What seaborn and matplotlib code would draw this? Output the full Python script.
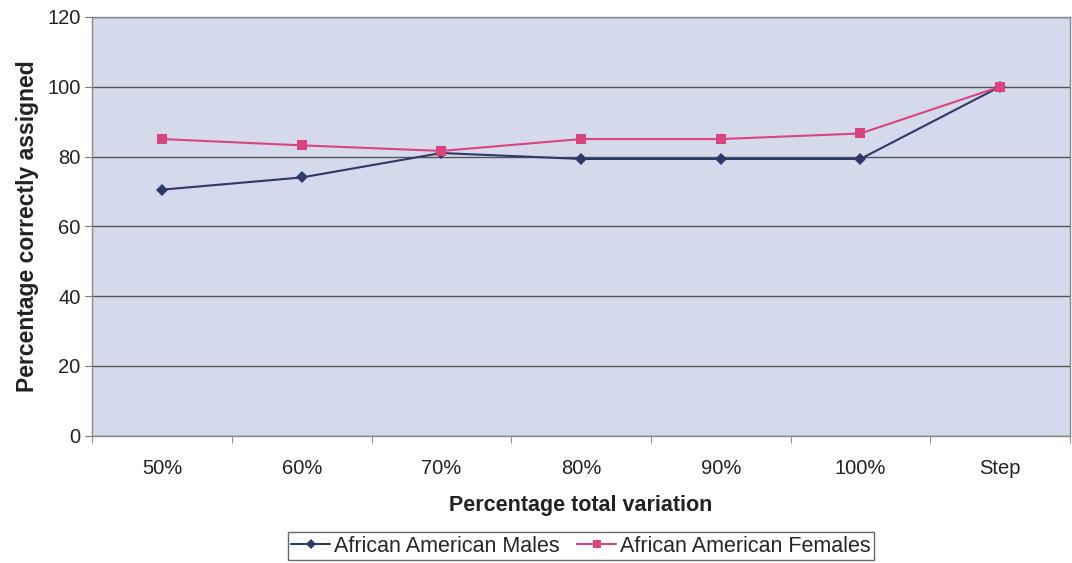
import pandas as pd
import numpy as np
import matplotlib
matplotlib.use("Agg")
import matplotlib.pyplot as plt
import seaborn as sns

categories = ["50%", "60%", "70%", "80%", "90%", "100%", "Step"]
males = [70.5, 74.0, 81.0, 79.3, 79.3, 79.3, 100.0]
females = [85.0, 83.2, 81.6, 85.0, 85.0, 86.6, 100.0]
series_names = ["African American Males", "African American Females"]

df = pd.DataFrame({
    "variation": categories * 2,
    "pct": males + females,
    "group": [series_names[0]] * len(categories) + [series_names[1]] * len(categories),
})
df["pos"] = list(range(len(categories))) * 2

sns.set_style("white")
plt.rcParams['font.family'] = ['Liberation Sans', 'DejaVu Sans']

fig = plt.figure(figsize=(10.72, 5.63), dpi=100)
ax = fig.add_axes([0.086, 0.226, 0.912, 0.744])
ax.set_facecolor("#D5D9EC")

palette = {series_names[0]: "#2E3A66", series_names[1]: "#D9437E"}
sns.lineplot(data=df, x="pos", y="pct", hue="group", style="group",
             markers={series_names[0]: "D", series_names[1]: "s"}, dashes=False,
             palette=palette, markersize=6.5, linewidth=1.5, ax=ax,
             markeredgewidth=0)

ax.set_xlim(-0.5, len(categories) - 0.5)
ax.set_ylim(0, 120)
ax.set_yticks(range(0, 121, 20))
ax.set_xticks(range(len(categories)))
ax.set_xticklabels(categories)
ax.set_xticks(np.arange(-0.5, len(categories), 1), minor=True)
ax.tick_params(axis="x", which="major", length=0, labelsize=14.5, pad=17, colors="#222222")
ax.tick_params(axis="x", which="minor", bottom=True, length=5, direction="out", color="#777777")
ax.tick_params(axis="y", length=5, direction="out", labelsize=14.5, colors="#222222", left=True, color="#777777")
ax.yaxis.grid(True, color="#555555", linewidth=1)
ax.set_axisbelow(True)
for s in ax.spines.values():
    s.set_color("#888888")
    s.set_linewidth(1)

ax.set_xlabel("Percentage total variation", fontsize=15.5, fontweight="bold", labelpad=12, color="#222222")
ax.set_ylabel("Percentage correctly assigned", fontsize=16.5, fontweight="bold", labelpad=6, color="#222222")

handles, labels = ax.get_legend_handles_labels()
ax.legend(handles, labels, loc="center", bbox_to_anchor=(0.542, 0.030),
          bbox_transform=fig.transFigure, ncol=2,
          frameon=True, fancybox=False, edgecolor="#444444", fontsize=15.5,
          handlelength=1.8, handletextpad=0.2, columnspacing=0.8, borderpad=0.15,
          markerscale=0.8)

fig.savefig("out.png", dpi=100)
